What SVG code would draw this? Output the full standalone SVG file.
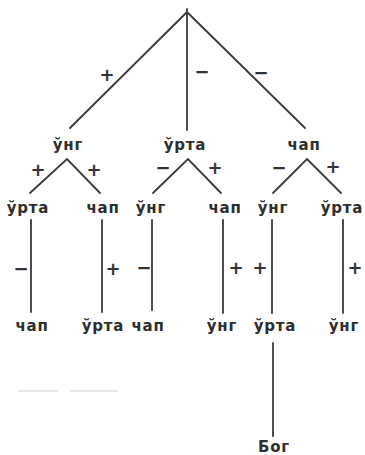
<svg xmlns="http://www.w3.org/2000/svg" width="365" height="455" viewBox="0 0 365 455">
<style>
.l{stroke:#3a3a3a;stroke-width:1.8;fill:none;stroke-linecap:round}
.t{font-family:"DejaVu Sans",sans-serif;font-weight:bold;font-size:15px;letter-spacing:0.8px;fill:#2e2e2e;text-anchor:middle}
.s{font-family:"DejaVu Sans",sans-serif;font-weight:bold;font-size:18px;fill:#333;text-anchor:middle}
</style>
<rect width="365" height="455" fill="#fff"/>
<g id="connectors">
<path class="l" d="M186,13 L70,128 M187,9 L187,130 M188,13 L305,128"/>
<path class="l" d="M30,193 L67,159 L100,193"/>
<path class="l" d="M153,193 L188,159 L221,193"/>
<path class="l" d="M273,193 L307,159 L341,193"/>
<path class="l" d="M31,220 L31,312 M102,220 L102,312 M152,220 L152,310 M223,220 L223,313 M272,220 L272,313 M343,220 L343,313"/>
<path class="l" d="M273,343 L273,436"/>
<path d="M18,391 L58,391 M70,391 L118,391" stroke="#e2e2e2" stroke-width="1.5"/>
</g>
<g id="signs">
<text class="s" x="107" y="81">+</text>
<text class="s" x="202" y="78">−</text>
<text class="s" x="261" y="79">−</text>
<text class="s" x="38" y="176">+</text>
<text class="s" x="94" y="176">+</text>
<text class="s" x="163" y="174">−</text>
<text class="s" x="215" y="174">+</text>
<text class="s" x="279" y="174">−</text>
<text class="s" x="333" y="173">+</text>
<text class="s" x="21" y="275">−</text>
<text class="s" x="113" y="275">+</text>
<text class="s" x="144" y="274">−</text>
<text class="s" x="236" y="274">+</text>
<text class="s" x="260" y="274">+</text>
<text class="s" x="355" y="274">+</text>
</g>
<g id="n-root-ung"><text class="t" x="68" y="150">ўнг</text></g>
<g id="n-root-urta"><text class="t" x="185" y="150">ўрта</text></g>
<g id="n-root-chap"><text class="t" x="304" y="150">чап</text></g>
<g id="n-2-1"><text class="t" x="28" y="213">ўрта</text></g>
<g id="n-2-2"><text class="t" x="103" y="213">чап</text></g>
<g id="n-2-3"><text class="t" x="151" y="213">ўнг</text></g>
<g id="n-2-4"><text class="t" x="225" y="213">чап</text></g>
<g id="n-2-5"><text class="t" x="273" y="213">ўнг</text></g>
<g id="n-2-6"><text class="t" x="342" y="213">ўрта</text></g>
<g id="n-3-1"><text class="t" x="32" y="331">чап</text></g>
<g id="n-3-2"><text class="t" x="103" y="331">ўрта</text></g>
<g id="n-3-3"><text class="t" x="148" y="331">чап</text></g>
<g id="n-3-4"><text class="t" x="222" y="331">ўнг</text></g>
<g id="n-3-5"><text class="t" x="275" y="331">ўрта</text></g>
<g id="n-3-6"><text class="t" x="344" y="331">ўнг</text></g>
<g id="n-bog"><text class="t" x="274" y="452">Бог</text></g>
</svg>
